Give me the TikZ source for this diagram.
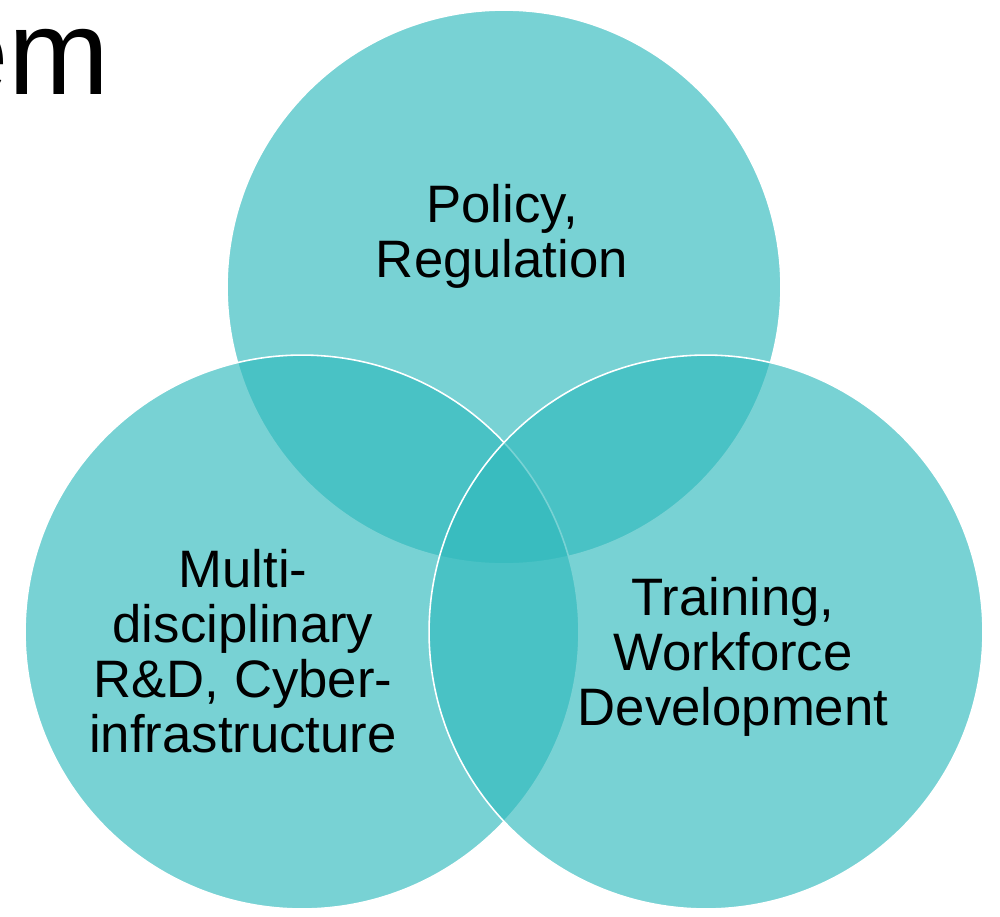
\documentclass[tikz,border=0pt]{standalone}
\usepackage{fontspec}
\setmainfont{Liberation Sans}
\definecolor{circle area}{RGB}{49,186,189}
\colorlet{circle edge}{white}
\tikzset{
  vennset/.style={circle, fill=circle area, fill opacity=0.65, draw=circle edge,
    line width=0.9pt, minimum size=11.08cm, inner sep=0pt},
  vennlabel/.style={align=center, inner sep=0pt, text=black,
    font=\fontsize{30}{31.3}\selectfont},
  titlecut/.style={inner sep=0pt, font=\fontsize{69}{70}\selectfont}
}
\begin{document}
\begin{tikzpicture}[x=0.02cm, y=-0.02cm]
    \fill[white] (0,0) rectangle (1000,916);
    \useasboundingbox (0,0) rectangle (1000,916);
    % cut-off heading at the top left
    \begin{scope}
      \clip (0,0) rectangle (1000,916);
      \node[titlecut, anchor=base east] (heading) at (110,94) {em};
    \end{scope}
    % the three sets
    \node[vennset] (policy) at (504,287) {};
    \node[vennset] (research) at (302,632) {};
    \node[vennset] (training) at (706,632) {};
    \node[vennlabel] (policy label) at (502,236) {Policy,\\Regulation};
    \node[vennlabel] (research label) at (243,651) {Multi-\\disciplinary\\R\&D, Cyber-\\infrastructure};
    \node[vennlabel] (training label) at (733,657) {Training,\\Workforce\\Development};
\end{tikzpicture}
\end{document}
